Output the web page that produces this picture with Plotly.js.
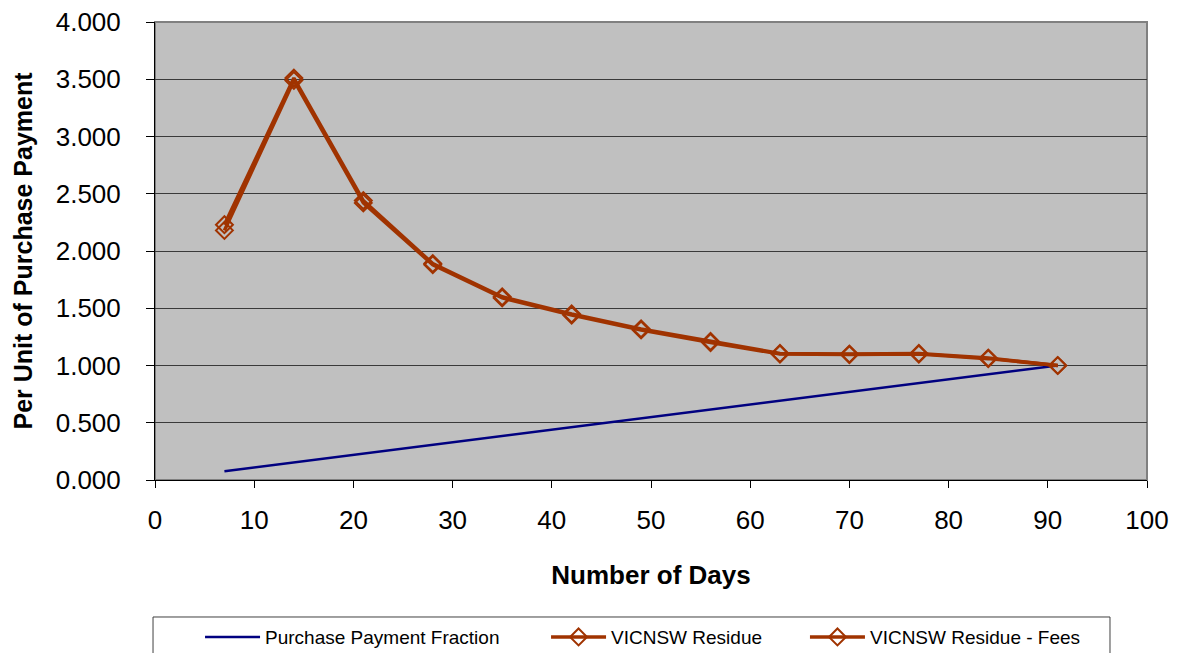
<!DOCTYPE html>
<html>
<head>
<meta charset="utf-8">
<script src="https://cdn.plot.ly/plotly-3.0.1.min.js"></script>
<style>html,body{margin:0;padding:0;background:#fff;}#chart{width:1177px;height:653px;}</style>
</head>
<body>
<div id="chart"></div>
<script>
const days = [7, 14, 21, 28, 35, 42, 49, 56, 63, 70, 77, 84, 91];
const purchaseFraction = [0.077, 0.154, 0.231, 0.308, 0.385, 0.462, 0.538, 0.615, 0.692, 0.769, 0.846, 0.923, 1.000];
const vicnswResidue = [2.23, 3.51, 2.44, 1.89, 1.60, 1.45, 1.32, 1.21, 1.105, 1.10, 1.105, 1.065, 1.00];
const vicnswResidueFees = [2.18, 3.49, 2.42, 1.88, 1.59, 1.44, 1.31, 1.20, 1.10, 1.095, 1.10, 1.06, 1.00];
const seriesNames = ['Purchase Payment Fraction', 'VICNSW Residue', 'VICNSW Residue - Fees'];

const font = 'Arial, "Liberation Sans", sans-serif';
const orange = '#A03300';

const traces = [
  {x: days, y: purchaseFraction, name: seriesNames[0], type: 'scatter', mode: 'lines',
   legend: 'legend',
   line: {color: '#000080', width: 2.5}},
  {x: days, y: vicnswResidue, name: seriesNames[1], type: 'scatter', mode: 'lines+markers',
   legend: 'legend2',
   line: {color: orange, width: 3.5},
   marker: {symbol: 'diamond-open', size: 13, color: orange, line: {color: orange, width: 2}}},
  {x: days, y: vicnswResidueFees, name: seriesNames[2], type: 'scatter', mode: 'lines+markers',
   legend: 'legend3',
   line: {color: orange, width: 3.5},
   marker: {symbol: 'diamond-open', size: 13, color: orange, line: {color: orange, width: 2}}}
];

function legendAt(xpos) {
  return {
    orientation: 'h', x: xpos, xanchor: 'left', y: -0.343, yanchor: 'middle',
    borderwidth: 0, bgcolor: 'rgba(0,0,0,0)',
    itemwidth: 55,
    font: {size: 19, family: font}
  };
}

const layout = {
  width: 1177, height: 653,
  margin: {l: 155, r: 30, t: 22, b: 173, autoexpand: false},
  paper_bgcolor: '#ffffff',
  plot_bgcolor: '#C0C0C0',
  font: {family: font, color: '#000'},
  showlegend: true,
  xaxis: {
    range: [0, 100], dtick: 10, tick0: 0,
    showgrid: false, zeroline: false,
    showline: true, linecolor: '#000', linewidth: 1,
    ticks: 'outside', ticklen: 7, tickcolor: '#000',
    ticklabelstandoff: 10,
    tickfont: {size: 26, family: font},
    title: {text: '<b>Number of Days</b>', font: {size: 26, family: font}, standoff: 31},
    automargin: false
  },
  yaxis: {
    range: [0, 4], dtick: 0.5, tick0: 0, tickformat: '.3f',
    showgrid: true, gridcolor: '#3a3a3a', gridwidth: 1,
    zeroline: false,
    showline: true, linecolor: '#000', linewidth: 1,
    ticks: 'outside', ticklen: 8, tickcolor: '#000',
    ticklabelstandoff: 20,
    tickfont: {size: 26, family: font},
    title: {text: '<b>Per Unit of Purchase Payment</b>', font: {size: 25, family: font}, standoff: 15},
    automargin: false
  },
  shapes: [
    {type: 'rect', xref: 'paper', yref: 'paper', x0: 0, x1: 1, y0: 0, y1: 1,
     line: {color: '#808080', width: 2}, fillcolor: 'rgba(0,0,0,0)', layer: 'below'},
    {type: 'rect', xref: 'paper', yref: 'paper', x0: -0.002, x1: 0.9627, y0: -0.2991, y1: -0.45,
     line: {color: '#404040', width: 1}, fillcolor: 'rgba(0,0,0,0)', layer: 'above'}
  ],
  legend: legendAt(0.0454),
  legend2: legendAt(0.3942),
  legend3: legendAt(0.6552)
};

Plotly.newPlot('chart', traces, layout, {displayModeBar: false, staticPlot: true});
</script>
</body>
</html>
